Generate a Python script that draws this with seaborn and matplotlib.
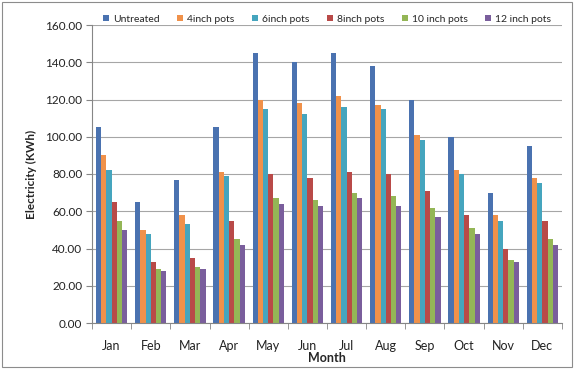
import matplotlib
matplotlib.use("Agg")
import matplotlib.pyplot as plt
from matplotlib.patches import Rectangle
from matplotlib.ticker import FixedLocator, MultipleLocator
import seaborn as sns
import pandas as pd

months = ["Jan", "Feb", "Mar", "Apr", "May", "Jun",
          "Jul", "Aug", "Sep", "Oct", "Nov", "Dec"]
series = ["Untreated", "4inch pots", "6inch pots", "8inch pots",
          "10 inch pots", "12 inch pots"]

untreated = [105, 65, 77, 105, 145, 140, 145, 138, 120, 100, 70, 95]
pots_4 = [90, 50, 58, 81, 120, 118, 122, 117, 101, 82, 58, 78]
pots_6 = [82, 48, 53, 79, 115, 112, 116, 115, 98, 80, 55, 75]
pots_8 = [65, 33, 35, 55, 80, 78, 81, 80, 71, 58, 40, 55]
pots_10 = [55, 29, 30, 45, 67, 66, 70, 68, 62, 51, 34, 45]
pots_12 = [50, 28, 29, 42, 64, 63, 67, 63, 57, 48, 33, 42]

colors = ["#4A72B0", "#F0914A", "#45A5BE", "#B94A48", "#94B656", "#7A5E9C"]

values = [untreated, pots_4, pots_6, pots_8, pots_10, pots_12]
rows = []
for name, vals in zip(series, values):
    for m, v in zip(months, vals):
        rows.append({"Month": m, "Series": name, "Electricity": v})
df = pd.DataFrame(rows)

sns.set_style("white")
plt.rcParams["font.family"] = ["Lato", "DejaVu Sans"]

fig = plt.figure(figsize=(5.74, 3.69), dpi=100)
ax = fig.add_axes([92 / 574, 1 - 323 / 369, 470 / 574, 298 / 369])

sns.barplot(data=df, x="Month", y="Electricity", hue="Series",
            order=months, hue_order=series, palette=colors,
            width=0.8, saturation=1, ax=ax, legend=True,
            linewidth=0, errorbar=None)

ax.set_ylim(0, 160)
ax.set_xlim(-0.5, 11.5)
ax.yaxis.set_major_locator(MultipleLocator(20))
ax.set_yticklabels([f"{v:.2f}" for v in ax.get_yticks()])
ax.grid(axis="y", color="#A6A6A6", linewidth=0.8)
ax.set_axisbelow(True)

for s in ["top", "right"]:
    ax.spines[s].set_visible(False)
for s in ["left", "bottom"]:
    ax.spines[s].set_color("#868686")
    ax.spines[s].set_linewidth(0.8)

ax.tick_params(axis="y", left=True, length=4, color="#868686",
               labelsize=8.5, labelcolor="#222222", pad=3)
ax.tick_params(axis="x", which="major", length=0, labelsize=9,
               labelcolor="#222222", pad=12)
ax.xaxis.set_minor_locator(FixedLocator([i + 0.5 for i in range(-1, 12)]))
ax.tick_params(axis="x", which="minor", bottom=True, length=4,
               color="#868686")

ax.set_xlabel("Month", fontsize=9, fontweight="bold", labelpad=0)
ax.set_ylabel("Electricity (KWh)", fontsize=8.5, fontweight="bold",
              labelpad=6)

handles, labels = ax.get_legend_handles_labels()
ax.legend(handles, labels, loc="center",
          bbox_to_anchor=(327 / 574, 1 - 19 / 369),
          bbox_transform=fig.transFigure, ncol=6, frameon=False,
          fontsize=7.5, handlelength=0.55, handleheight=0.55,
          handletextpad=0.4, columnspacing=1.7, borderaxespad=0)

fig.patches.append(Rectangle((2 / 574, 2 / 369), 570 / 574, 365 / 369,
                             transform=fig.transFigure, fill=False,
                             edgecolor="#8C8C8C", linewidth=0.8))

fig.savefig("out.png", dpi=100)
